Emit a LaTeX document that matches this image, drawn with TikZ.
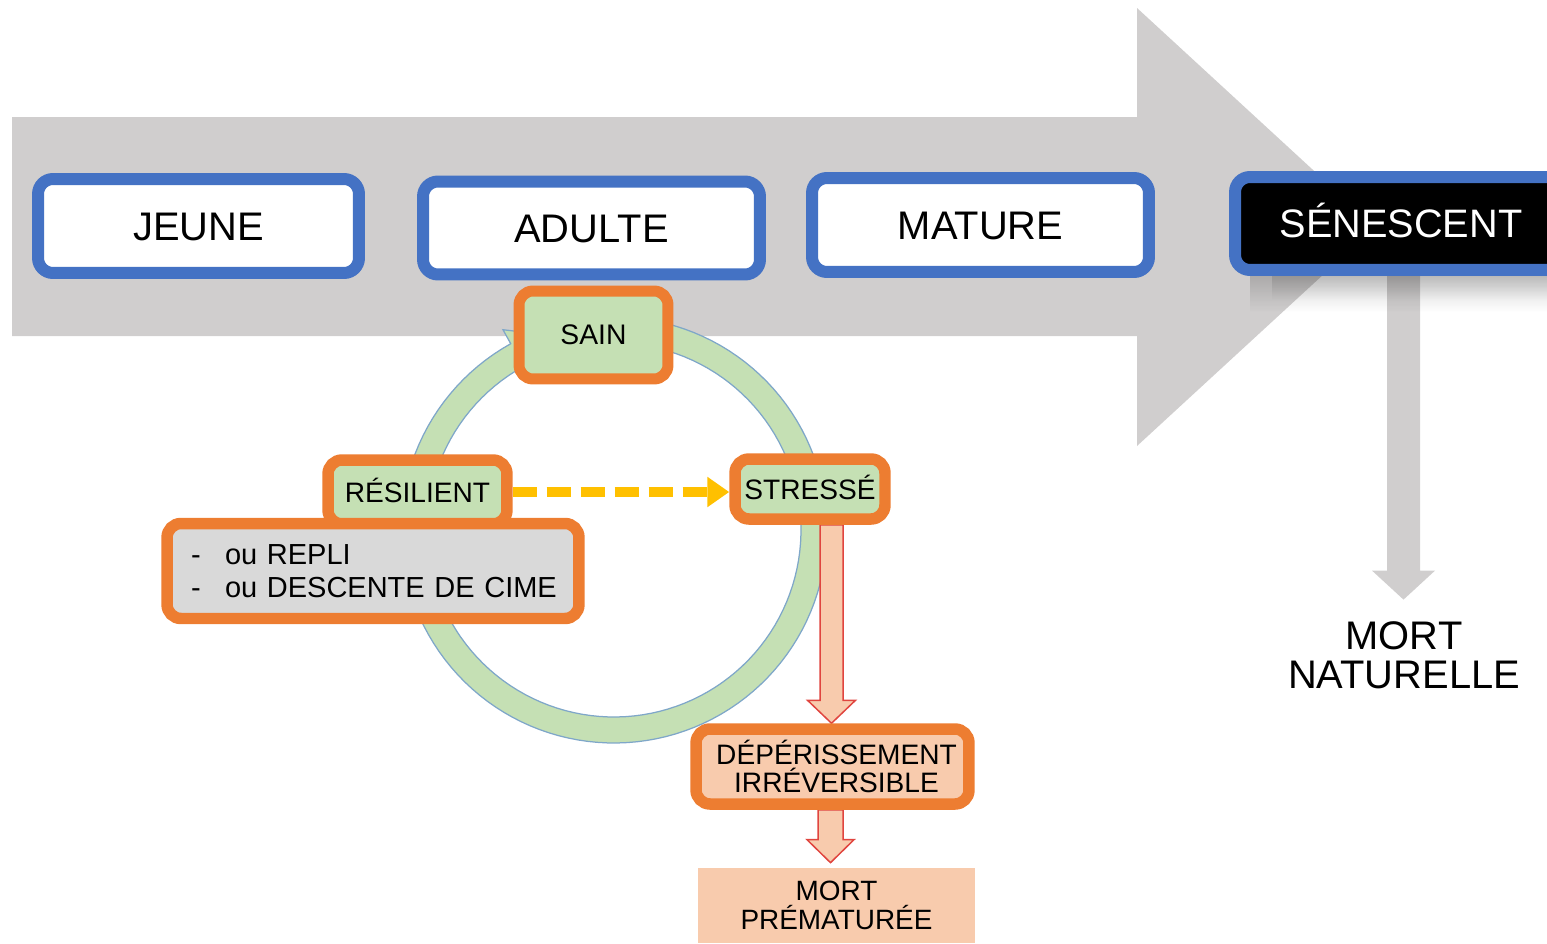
\documentclass[tikz,border=0pt]{standalone}
\usepackage{fontspec}
\setmainfont{Liberation Sans}
\usetikzlibrary{arrows.meta,calc,fadings}
\definecolor{arrowgray}{HTML}{D0CECE}
\definecolor{stageblue}{HTML}{4472C4}
\definecolor{stateorange}{HTML}{ED7D31}
\definecolor{stategreen}{HTML}{C5E0B4}
\definecolor{pinkfill}{HTML}{F8CBAD}
\definecolor{pinkline}{HTML}{E0453F}
\definecolor{dashyellow}{HTML}{FFC000}
\definecolor{boxgray}{HTML}{D9D9D9}
\definecolor{ringline}{HTML}{7FA7C9}
\pgfdeclarelayer{back}
\pgfdeclarelayer{mid}
\pgfsetlayers{back,mid,main}
\newcommand\blockarrow[6]{%
  \path[#1] ($#2+(-#4,0)$) -- ($#3+(-#4,-#6)$) -- ($#3+(-#5,-#6)$) -- #3
    -- ($#3+(#5,-#6)$) -- ($#3+(#4,-#6)$) -- ($#2+(#4,0)$) -- cycle;}
\begin{document}
\begin{tikzpicture}[x=0.02cm,y=-0.02cm,
  big/.style={font=\fontsize{22.7}{26}\selectfont, text height=16.25pt, text depth=0pt},
  small/.style={font=\fontsize{16}{16}\selectfont},
  oneline/.style={text height=11.45pt, text depth=0pt},
  stagebox/.style={big, draw=stageblue, line width=0.24cm, rounded corners=0.3cm, fill=white, inner sep=0pt},
  statebox/.style={small, draw=stateorange, line width=0.23cm, rounded corners=0.28cm, fill=stategreen, inner sep=0pt},
  pinkarrow/.style={fill=pinkfill, draw=pinkline, line width=0.03cm, line join=miter},
  grayarrow/.style={fill=arrowgray},
]
\useasboundingbox (0,0) rectangle (1547,943);

% stage boxes
\node[stagebox, minimum width=6.42cm, minimum height=1.88cm] (jeune) at (198.5,226) {JEUNE};
\node[stagebox, minimum width=6.74cm, minimum height=1.86cm] (adulte) at (591.5,228) {ADULTE};
\node[stagebox, minimum width=6.74cm, minimum height=1.88cm] (mature) at (980.5,225) {MATURE};
\node[stagebox, fill=black, text=white, font=\fontsize{22.6}{26}\selectfont, text height=16.2pt,
      minimum width=6.64cm, minimum height=1.86cm] (sen) at (1401,223.5) {SÉNESCENT};

% state boxes
\node[statebox, font=\fontsize{16.1}{16}\selectfont, line width=0.22cm, minimum width=2.98cm, minimum height=1.76cm] (sain) at (593.5,335) {SAIN};
\node[statebox, oneline, minimum width=3.58cm, minimum height=1.28cm] (res) at (417.5,492) {RÉSILIENT};
\node[statebox, fill=boxgray, align=left, font=\fontsize{16.5}{18.7}\selectfont,
      text width=7.28cm, inner xsep=0.48cm, minimum width=8.24cm, minimum height=1.9cm] (rep) at (373,571)
      {\makebox[0.68cm][l]{-}\mbox{ou REPLI}\\\makebox[0.68cm][l]{-}\mbox{ou DESCENTE DE CIME}};
\node[statebox, oneline, minimum width=3.0cm, minimum height=1.2cm] (str) at (810,489) {STRESSÉ};
\node[statebox, fill=pinkfill, align=center, font=\fontsize{16}{15.9}\selectfont,
      minimum width=5.46cm, minimum height=1.5cm] (dep) at (832.5,766.5)
      {\hspace*{0.16cm}DÉPÉRISSEMENT\\\hspace*{0.16cm}IRRÉVERSIBLE};
\node[fill=pinkfill, align=center, font=\fontsize{15.9}{16.4}\selectfont, inner sep=0pt,
      minimum width=5.54cm, minimum height=1.5cm] (mp) at (836.5,905.5) {MORT\\PRÉMATURÉE};
\node[align=center, font=\fontsize{22.7}{22.1}\selectfont, inner sep=0pt] (mn) at (1404,655.5) {MORT\\NATURELLE};

\begin{pgfonlayer}{back}
  % big timeline arrow
  \fill[arrowgray] (12,117) -- (1137,117) -- (1137,8) -- (1375,227) -- (1137,446)
    -- (1137,336) -- (12,336) -- cycle;
  % circular arrow
  \filldraw[fill=stategreen, draw=ringline, line width=0.025cm, line join=miter]
    plot[domain=-76:241, samples=120] ({614+213*cos(\x)},{530+213*sin(\x)})
    -- ({614+229*cos(241)},{530+229*sin(241)})
    -- ({614+200*cos(255)},{530+200*sin(255)})
    -- ({614+171*cos(241)},{530+171*sin(241)})
    -- plot[domain=241:-76, samples=120] ({614+187*cos(\x)},{530+187*sin(\x)})
    -- cycle;
\end{pgfonlayer}

\begin{pgfonlayer}{mid}
  % dashed yellow arrow
  \draw[dashyellow, line width=0.2cm, dash pattern=on 0.48cm off 0.2cm,
        -{Triangle[length=0.44cm, width=0.58cm]}]
    (res.east) -- (res.east -| str.west);
  % pink block arrows
  \coordinate (a1t) at ($(str.south)+(21.5,0)$);
  \coordinate (a1b) at (a1t |- dep.north);
  \blockarrow{pinkarrow}{(a1t)}{(a1b)}{11.5}{24}{23}
  \coordinate (a2t) at ($(dep.south)+(-2,0)$);
  \coordinate (a2b) at ($(a2t |- mp.north)+(0,-5)$);
  \blockarrow{pinkarrow}{(a2t)}{(a2b)}{12.5}{23.5}{23}
  % gray arrow to natural death
  \coordinate (a3t) at ($(sen.south)+(2.5,0)$);
  \coordinate (a3b) at ($(a3t |- mn.north)+(0,-22)$);
  \blockarrow{grayarrow}{(a3t)}{(a3b)}{16.5}{31.5}{29}
  % shadow under SENESCENT
  \fill[black, fill opacity=0.2, path fading=south] (1250,270) rectangle (1547,312);
  \fill[black, fill opacity=0.15, path fading=south] (1272,270) rectangle (1547,300);
\end{pgfonlayer}
\end{tikzpicture}
\end{document}
